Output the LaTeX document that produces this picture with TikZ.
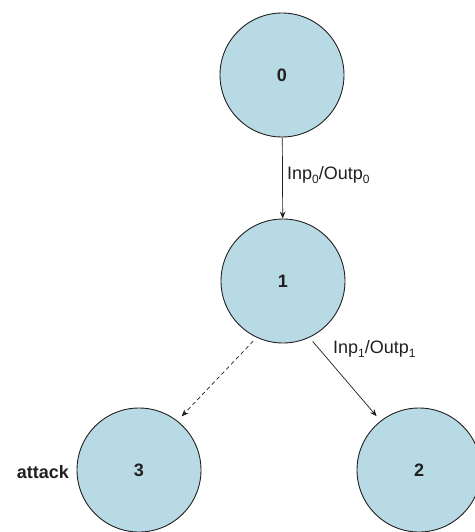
\documentclass[tikz,border=0pt]{standalone}
\usepackage{fontspec}
\setmainfont{Liberation Sans}
\usetikzlibrary{arrows.meta}
\definecolor{statefill}{RGB}{183,218,229}
\definecolor{ink}{RGB}{35,31,32}
% lowered index for the transition labels
\newcommand{\lowidx}[1]{\raisebox{-4.5pt}{\fontsize{12}{12}\selectfont #1}}
\begin{document}
\begin{tikzpicture}[x=1pt,y=-1pt,
  state/.style={circle,draw=ink,fill=statefill,line width=0.9pt,
    minimum size=124pt,inner sep=0pt,font=\fontsize{18}{20}\selectfont\bfseries,text=ink},
  trans/.style={draw=ink,line width=0.7pt,-{Stealth[length=7pt,width=5.5pt]}},
  lbl/.style={font=\fontsize{18}{20}\selectfont,text=ink,inner sep=0pt}]
  \useasboundingbox (0,0) rectangle (474,532);
  \node[state] (s0) at (282,75) {0};
  \node[state] (s1) at (283,281) {1};
  \node[state] (s3) at (139,470) {3};
  \node[state] (s2) at (419,470) {2};
  \node[lbl,font=\fontsize{18}{20}\selectfont\bfseries,anchor=east] (atk) at (69,472) {attack};

  \draw[trans] (s0) -- (s1);
  \draw[trans,shorten <=5pt,shorten >=6pt] (s1.295) -- (s2.128);
  \draw[trans,dashed,dash pattern=on 4pt off 3pt,shorten <=5pt,shorten >=6pt] (s1.245) -- (s3.52);

  \node[lbl,anchor=west] (l0) at (287,175) {Inp\lowidx{0}/Outp\lowidx{0}};
  \node[lbl,anchor=west] (l1) at (333,349) {Inp\lowidx{1}/Outp\lowidx{1}};
\end{tikzpicture}
\end{document}
